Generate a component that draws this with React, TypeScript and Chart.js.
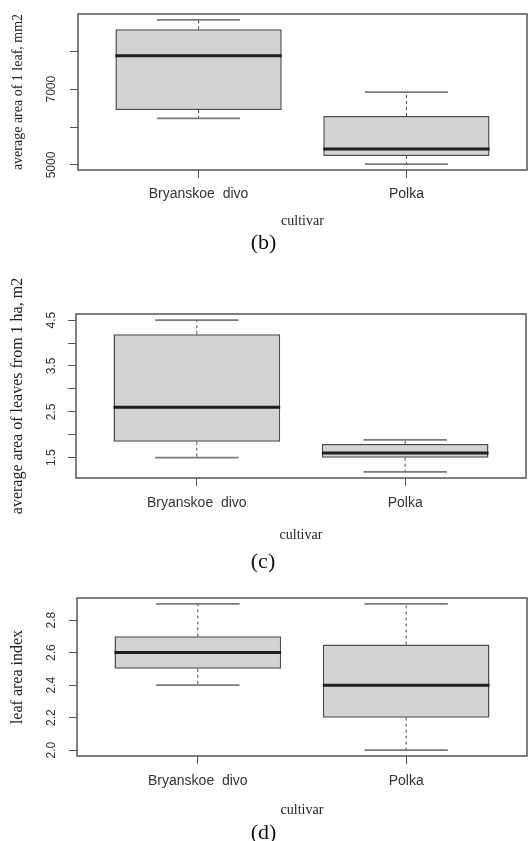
import React, { useEffect, useRef } from 'react';
import { Chart, registerables } from 'chart.js';

Chart.register(...registerables);

// ---------------- data ----------------
const categories = ['Bryanskoe  divo', 'Polka'];

// (b) average area of 1 leaf, mm2
const leafLow = [6230, 5020];
const leafQ1 = [6450, 5240];
const leafMedian = [7880, 5420];
const leafQ3 = [8580, 6290];
const leafHigh = [8830, 6920];
const leafTickLabels = [5000, 7000];
const leafTickStep = 1000;

// (c) average area of leaves from 1 ha, m2
const haLow = [1.5, 1.19];
const haQ1 = [1.85, 1.5];
const haMedian = [2.6, 1.6];
const haQ3 = [4.19, 1.8];
const haHigh = [4.5, 1.89];
const haTickLabels = [1.5, 2.5, 3.5, 4.5];
const haTickStep = 0.5;

// (d) leaf area index
const laiLow = [2.4, 2.0];
const laiQ1 = [2.5, 2.2];
const laiMedian = [2.6, 2.4];
const laiQ3 = [2.7, 2.65];
const laiHigh = [2.9, 2.9];
const laiTickLabels = [2.0, 2.2, 2.4, 2.6, 2.8];
const laiTickStep = 0.2;

// ---------------- styling / layout ----------------
const SANS = "'Liberation Sans', Arial, sans-serif";
const SERIF = "'Liberation Serif', 'Times New Roman', serif";
const BOX_HALF = 0.4;
const CAP_HALF = 0.2;
const EXT = 0.04; // R's axis extension

type Spec = {
  caption: string;
  yTitle: string;
  low: number[]; q1: number[]; med: number[]; q3: number[]; high: number[];
  tickLabels: number[]; step: number; decimals: number;
  ct: number; H: number; frameTop: number; frameBottom: number; frameLeft: number; frameRight: number;
  xAxisH: number; xTickPad: number; xTitlePad: number; yTickPad: number; yTitleSize: number;
};

const panels: Spec[] = [
  {
    caption: '(b)', yTitle: 'average area of 1 leaf, mm2',
    low: leafLow, q1: leafQ1, med: leafMedian, q3: leafQ3, high: leafHigh,
    tickLabels: leafTickLabels, step: leafTickStep, decimals: 0,
    ct: 0, H: 258, frameTop: 14, frameBottom: 170, frameLeft: 78, frameRight: 527,
    xAxisH: 60, xTickPad: 8, xTitlePad: 0, yTickPad: 5, yTitleSize: 14,
  },
  {
    caption: '(c)', yTitle: 'average area of leaves from 1 ha, m2',
    low: haLow, q1: haQ1, med: haMedian, q3: haQ3, high: haHigh,
    tickLabels: haTickLabels, step: haTickStep, decimals: 1,
    ct: 262, H: 315, frameTop: 314, frameBottom: 478, frameLeft: 76, frameRight: 526,
    xAxisH: 71, xTickPad: 8.5, xTitlePad: 5, yTickPad: 8, yTitleSize: 16,
  },
  {
    caption: '(d)', yTitle: 'leaf area index',
    low: laiLow, q1: laiQ1, med: laiMedian, q3: laiQ3, high: laiHigh,
    tickLabels: laiTickLabels, step: laiTickStep, decimals: 1,
    ct: 570, H: 278, frameTop: 598, frameBottom: 756, frameLeft: 77, frameRight: 527,
    xAxisH: 64, xTickPad: 8.5, xTitlePad: 1, yTickPad: 9.3, yTitleSize: 16,
  },
];

const CAPTION_SIZE = 22;

const framePlugin = {
  id: 'rFrame',
  afterDatasetsDraw(chart: any) {
    const { ctx, chartArea: a } = chart;
    ctx.save();
    ctx.strokeStyle = '#555555';
    ctx.lineWidth = 1.5;
    ctx.strokeRect(a.left, a.top, a.right - a.left, a.bottom - a.top);
    ctx.restore();
  },
};

function Panel({ spec }: { spec: Spec }) {
  const ref = useRef<HTMLCanvasElement | null>(null);

  useEffect(() => {
    const canvas = ref.current;
    if (!canvas) return;
    const xs = categories.map((_, i) => i + 1);
    const xMin = 0.5 - EXT * categories.length;
    const xMax = categories.length + 0.5 + EXT * categories.length;
    const lo = Math.min(...spec.low);
    const hi = Math.max(...spec.high);
    const yMin = lo - (hi - lo) * EXT;
    const yMax = hi + (hi - lo) * EXT;

    const boxData = xs.map((x, i) => ({ x, y: [spec.q1[i], spec.q3[i]] }));
    const medianData = xs.flatMap((x, i) => [
      { x: x - BOX_HALF, y: spec.med[i] },
      { x: x + BOX_HALF, y: spec.med[i] },
      { x, y: null },
    ]);
    const whiskerData = xs.flatMap((x, i) => [
      { x, y: spec.q3[i] }, { x, y: spec.high[i] }, { x, y: null },
      { x, y: spec.q1[i] }, { x, y: spec.low[i] }, { x, y: null },
    ]);
    const capData = xs.flatMap((x, i) => [
      { x: x - CAP_HALF, y: spec.high[i] }, { x: x + CAP_HALF, y: spec.high[i] }, { x, y: null },
      { x: x - CAP_HALF, y: spec.low[i] }, { x: x + CAP_HALF, y: spec.low[i] }, { x, y: null },
    ]);

    const titleLH = CAPTION_SIZE * 1.2;
    const padBottom = spec.H - (spec.frameBottom - spec.ct) - spec.xAxisH - titleLH;

    const chart = new Chart(canvas, {
      type: 'bar',
      data: {
        datasets: [
          {
            type: 'line', data: medianData as any, borderColor: '#1e1e1e', borderWidth: 3,
            pointRadius: 0, spanGaps: false, order: 0, borderCapStyle: 'butt',
          } as any,
          {
            type: 'line', data: capData as any, borderColor: '#7a7a7a', borderWidth: 1.8,
            pointRadius: 0, spanGaps: false, order: 1,
          } as any,
          {
            type: 'line', data: whiskerData as any, borderColor: '#444444', borderWidth: 1,
            borderDash: [3, 3], pointRadius: 0, spanGaps: false, order: 2,
          } as any,
          {
            type: 'bar', data: boxData as any, backgroundColor: '#d3d3d3', borderColor: '#4d4d4d',
            borderWidth: 1.5, borderSkipped: false, barPercentage: 0.8, categoryPercentage: 1,
            order: 3,
          } as any,
        ],
      },
      options: {
        animation: false,
        responsive: false,
        devicePixelRatio: 1,
        layout: {
          padding: {
            top: spec.frameTop - spec.ct,
            left: 0,
            right: 528 - spec.frameRight,
            bottom: padBottom,
          },
        },
        plugins: {
          legend: { display: false },
          tooltip: { enabled: false },
          title: {
            display: true,
            position: 'bottom',
            text: spec.caption,
            color: '#111111',
            padding: 0,
            font: { family: SERIF, size: CAPTION_SIZE, weight: 'normal', lineHeight: 1.2 },
          },
        },
        scales: {
          x: {
            type: 'linear',
            min: xMin,
            max: xMax,
            offset: false,
            afterBuildTicks: (s: any) => {
              s.ticks = xs.map((v) => ({ value: v }));
            },
            afterFit: (s: any) => {
              s.height = spec.xAxisH;
              s.paddingLeft = 0;
              s.paddingRight = 0;
            },
            ticks: {
              autoSkip: false,
              minRotation: 0,
              maxRotation: 0,
              padding: spec.xTickPad,
              color: '#333333',
              font: { family: SANS, size: 14 },
              callback: (v: any) => categories[Math.round(Number(v)) - 1] ?? '',
            },
            grid: { drawOnChartArea: false, drawTicks: true, tickLength: 8, color: '#555555', offset: false },
            border: { display: false },
            title: {
              display: true,
              text: 'cultivar',
              color: '#222222',
              font: { family: SERIF, size: 14 },
              padding: { top: 0, bottom: spec.xTitlePad },
            },
          },
          y: {
            type: 'linear',
            min: yMin,
            max: yMax,
            afterBuildTicks: (s: any) => {
              const ticks: { value: number }[] = [];
              const first = Math.ceil(yMin / spec.step - 1e-9);
              const last = Math.floor(yMax / spec.step + 1e-9);
              for (let k = first; k <= last; k++) {
                ticks.push({ value: Number((k * spec.step).toFixed(6)) });
              }
              s.ticks = ticks;
            },
            afterFit: (s: any) => {
              s.width = spec.frameLeft;
              s.paddingTop = 0;
              s.paddingBottom = 0;
            },
            ticks: {
              autoSkip: false,
              minRotation: 90,
              maxRotation: 90,
              crossAlign: 'center',
              padding: spec.yTickPad,
              color: '#333333',
              font: { family: SANS, size: 12 },
              callback: (v: any) => {
                const n = Number(v);
                return spec.tickLabels.some((t) => Math.abs(t - n) < spec.step * 1e-3)
                  ? n.toFixed(spec.decimals)
                  : '';
              },
            },
            grid: { drawOnChartArea: false, drawTicks: true, tickLength: 8, color: '#555555' },
            border: { display: false },
            title: {
              display: true,
              text: spec.yTitle,
              color: '#222222',
              font: { family: SERIF, size: spec.yTitleSize },
              padding: { top: 18 - spec.yTitleSize * 0.6, bottom: 0 },
            },
          },
        },
      } as any,
      plugins: [framePlugin],
    });
    return () => chart.destroy();
  }, [spec]);

  return (
    <canvas
      ref={ref}
      width={528}
      height={spec.H}
      style={{ position: 'absolute', left: 0, top: spec.ct, width: 528, height: spec.H, display: 'block' }}
    />
  );
}

export default function App() {
  return (
    <div
      style={{
        position: 'absolute',
        left: 0,
        top: 0,
        width: 528,
        height: 841,
        overflow: 'hidden',
        background: '#ffffff',
      }}
    >
      {panels.map((p) => (
        <Panel key={p.caption} spec={p} />
      ))}
    </div>
  );
}
